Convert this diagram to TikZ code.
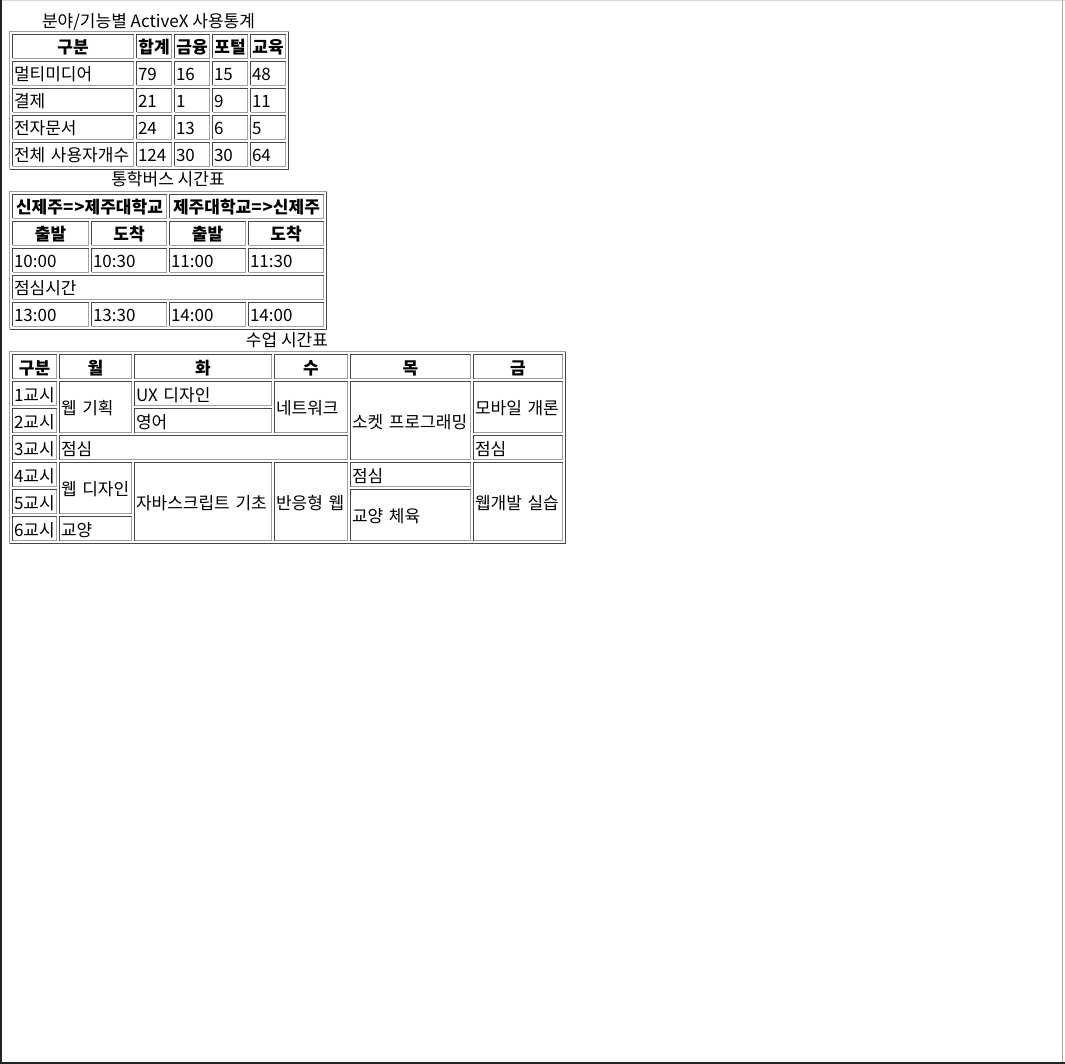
\documentclass[tikz,border=0pt]{standalone}
\usepackage{fontspec}
\setmainfont{Noto Sans CJK KR}
\definecolor{bdark}{HTML}{474747}
\definecolor{blight}{HTML}{A0A0A0}
\definecolor{frdark}{HTML}{1E2626}
\definecolor{frlight}{HTML}{D8D8D8}
\definecolor{frgray}{HTML}{A8A8A8}
\tikzset{
 cellnode/.style={inner xsep=2pt, inner ysep=0pt, text height=15pt, text depth=0pt, font=\fontsize{17}{19}\selectfont, anchor=center},
 lt/.style={align=left},
 hd/.style={align=center, font=\fontsize{17}{19}\selectfont\bfseries},
 dk/.style={draw=bdark, line width=1pt},
 lg/.style={draw=blight, line width=1pt},
 ttl/.style={anchor=base, inner sep=0pt, font=\fontsize{17}{19}\selectfont},
}
\newcommand\tc[7]{%
 \pgfmathsetmacro\tcw{#4-#2}\pgfmathsetmacro\tch{#5-#3}\pgfmathsetmacro\tctw{#4-#2-4}%
 \path[lg] (#2+0.5,#5-0.5) -| (#4-0.5,#3+0.5);
 \path[dk] (#2+0.5,#5-0.5) |- (#4-0.5,#3+0.5);
 \node[cellnode,#7,minimum width=\tcw pt,minimum height=\tch pt,text width=\tctw pt] (#1) at ({(#2+#4)/2},{(#3+#5)/2}) {#6};
}
\newcommand\tf[4]{%
 \path[dk] (#1+0.5,#4-0.5) -| (#3-0.5,#2+0.5);
 \path[lg] (#1+0.5,#4-0.5) |- (#3-0.5,#2+0.5);
}
\begin{document}
\begin{tikzpicture}[x=1pt,y=-1pt]
\useasboundingbox (0,0) rectangle (1065,1064);
\fill[white] (0,0) rectangle (1065,1064);
% page frame
\draw[frlight, line width=1pt] (0,0.5) -- (1065,0.5);
\draw[frgray, line width=1pt] (1062.5,0) -- (1062.5,1064);
\draw[frdark, line width=1.5pt] (0.75,0) -- (0.75,1064);
\draw[frdark, line width=2pt] (0,1063) -- (1065,1063);

% ---------- Table 1 ----------
\node[ttl] (t1) at (148.5,27.5) {분야/기능별 ActiveX 사용통계};
\tf{9}{31}{289}{170}
\tc{a00}{12}{34}{134}{59}{구분}{hd}
\tc{a01}{136}{34}{172}{59}{합계}{hd}
\tc{a02}{174}{34}{210}{59}{금융}{hd}
\tc{a03}{212}{34}{248}{59}{포털}{hd}
\tc{a04}{250}{34}{286}{59}{교육}{hd}
\tc{a10}{12}{61}{134}{86}{멀티미디어}{lt}
\tc{a11}{136}{61}{172}{86}{79}{lt}
\tc{a12}{174}{61}{210}{86}{16}{lt}
\tc{a13}{212}{61}{248}{86}{15}{lt}
\tc{a14}{250}{61}{286}{86}{48}{lt}
\tc{a20}{12}{88}{134}{113}{결제}{lt}
\tc{a21}{136}{88}{172}{113}{21}{lt}
\tc{a22}{174}{88}{210}{113}{1}{lt}
\tc{a23}{212}{88}{248}{113}{9}{lt}
\tc{a24}{250}{88}{286}{113}{11}{lt}
\tc{a30}{12}{115}{134}{140}{전자문서}{lt}
\tc{a31}{136}{115}{172}{140}{24}{lt}
\tc{a32}{174}{115}{210}{140}{13}{lt}
\tc{a33}{212}{115}{248}{140}{6}{lt}
\tc{a34}{250}{115}{286}{140}{5}{lt}
\tc{a40}{12}{142}{134}{167}{전체 사용자개수}{lt}
\tc{a41}{136}{142}{172}{167}{124}{lt}
\tc{a42}{174}{142}{210}{167}{30}{lt}
\tc{a43}{212}{142}{248}{167}{30}{lt}
\tc{a44}{250}{142}{286}{167}{64}{lt}

% ---------- Table 2 ----------
\node[ttl] (t2) at (168,186) {통학버스 시간표};
\tf{9}{191}{327}{330}
\tc{b00}{12}{194}{167}{219}{신제주=\kern1pt>제주대학교}{hd}
\tc{b01}{169}{194}{324}{219}{제주대학교=\kern1pt>신제주}{hd}
\tc{b10}{12}{221}{89}{246}{출발}{hd}
\tc{b11}{91}{221}{167}{246}{도착}{hd}
\tc{b12}{169}{221}{246}{246}{출발}{hd}
\tc{b13}{248}{221}{324}{246}{도착}{hd}
\tc{b20}{12}{248}{89}{273}{10:00}{lt}
\tc{b21}{91}{248}{167}{273}{10:30}{lt}
\tc{b22}{169}{248}{246}{273}{11:00}{lt}
\tc{b23}{248}{248}{324}{273}{11:30}{lt}
\tc{b30}{12}{275}{324}{300}{점심시간}{lt}
\tc{b40}{12}{302}{89}{327}{13:00}{lt}
\tc{b41}{91}{302}{167}{327}{13:30}{lt}
\tc{b42}{169}{302}{246}{327}{14:00}{lt}
\tc{b43}{248}{302}{324}{327}{14:00}{lt}

% ---------- Table 3 ----------
\node[ttl] (t3) at (287,346) {수업 시간표};
\tf{9}{351}{566}{544}
\tc{c00}{12}{354}{57}{379}{구분}{hd}
\tc{c01}{59}{354}{132}{379}{월}{hd}
\tc{c02}{134}{354}{272}{379}{화}{hd}
\tc{c03}{274}{354}{348}{379}{수}{hd}
\tc{c04}{350}{354}{471}{379}{목}{hd}
\tc{c05}{473}{354}{563}{379}{금}{hd}
\tc{k1}{12}{381}{57}{406}{1교시}{lt}
\tc{k2}{12}{408}{57}{433}{2교시}{lt}
\tc{k3}{12}{435}{57}{460}{3교시}{lt}
\tc{k4}{12}{462}{57}{487}{4교시}{lt}
\tc{k5}{12}{489}{57}{514}{5교시}{lt}
\tc{k6}{12}{516}{57}{541}{6교시}{lt}
\tc{m12}{59}{381}{132}{433}{웹 기획}{lt}
\tc{h1}{134}{381}{272}{406}{UX 디자인}{lt}
\tc{h2}{134}{408}{272}{433}{영어}{lt}
\tc{s12}{274}{381}{348}{433}{네트워크}{lt}
\tc{w13}{350}{381}{471}{460}{소켓 프로그래밍}{lt}
\tc{f12}{473}{381}{563}{433}{모바일 개론}{lt}
\tc{l3}{59}{435}{348}{460}{점심}{lt}
\tc{f3}{473}{435}{563}{460}{점심}{lt}
\tc{m45}{59}{462}{132}{514}{웹 디자인}{lt}
\tc{m6}{59}{516}{132}{541}{교양}{lt}
\tc{h46}{134}{462}{272}{541}{자바스크립트 기초}{lt}
\tc{s46}{274}{462}{348}{541}{반응형 웹}{lt}
\tc{w4}{350}{462}{471}{487}{점심}{lt}
\tc{w56}{350}{489}{471}{541}{교양 체육}{lt}
\tc{f46}{473}{462}{563}{541}{웹개발 실습}{lt}
\end{tikzpicture}
\end{document}
